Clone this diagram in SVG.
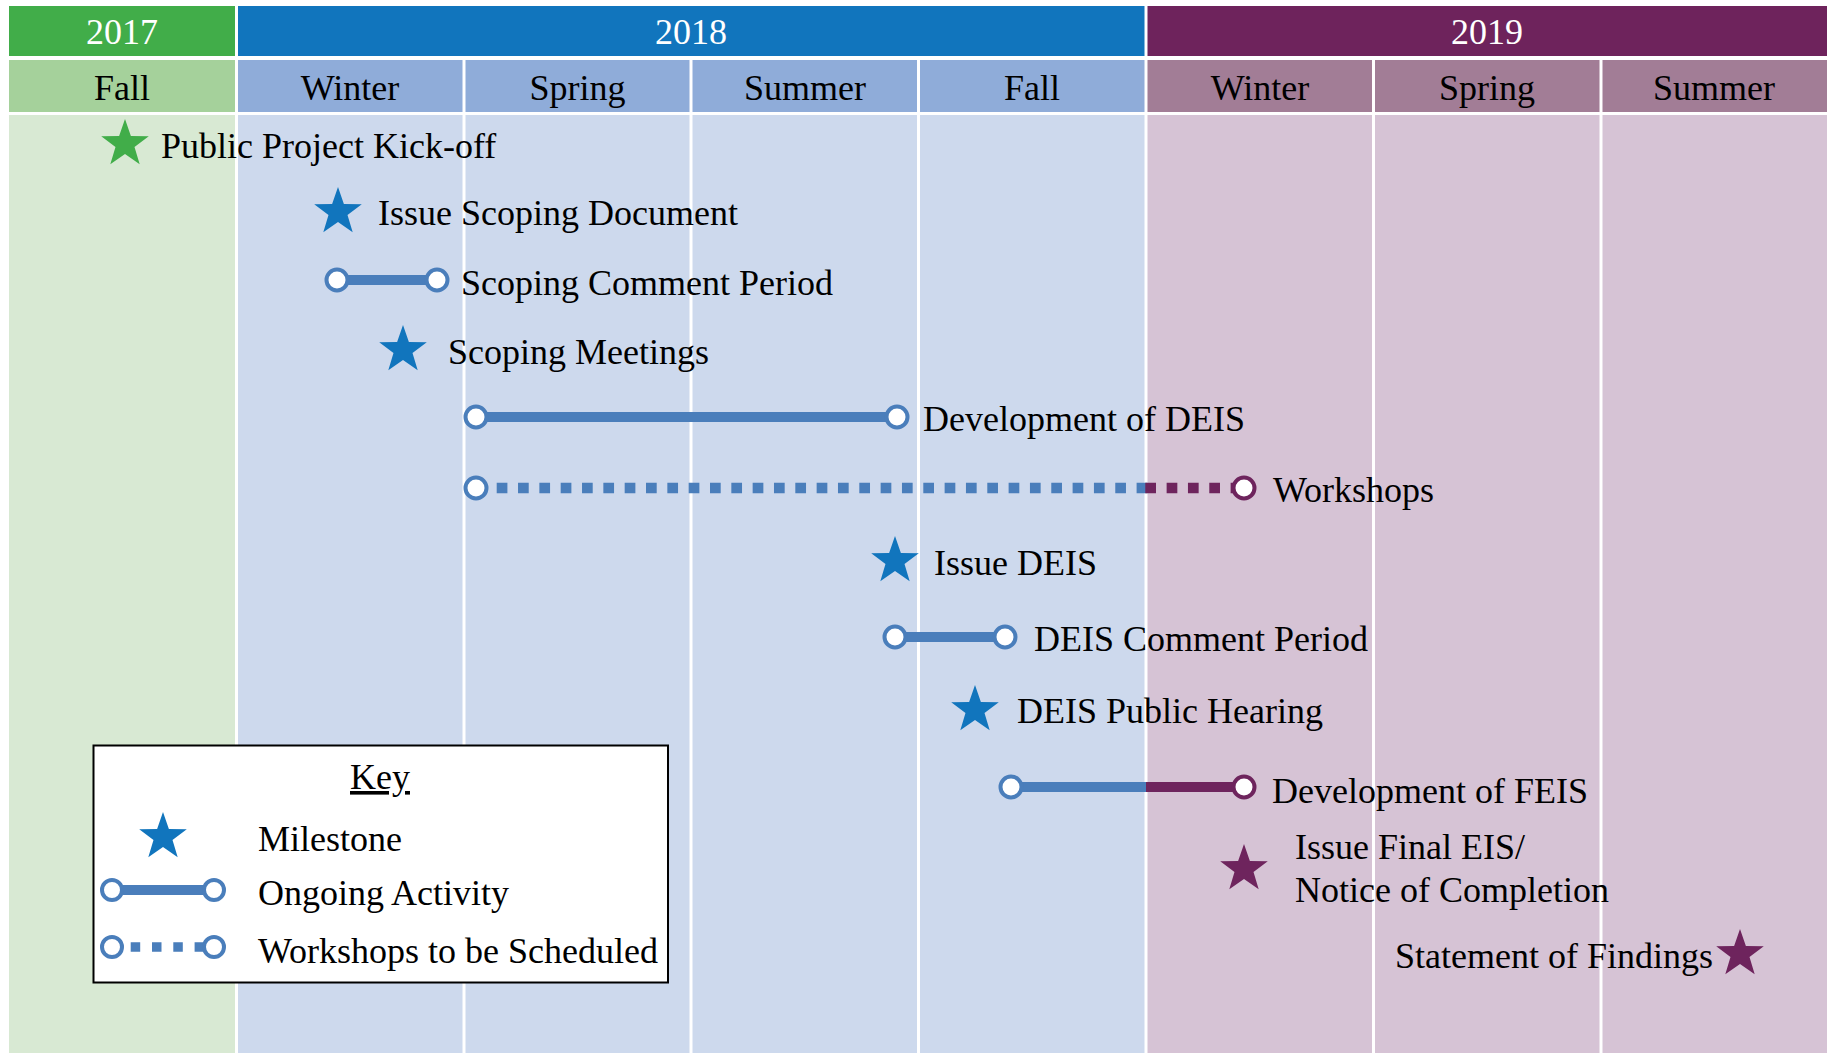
<svg xmlns="http://www.w3.org/2000/svg" xmlns:xlink="http://www.w3.org/1999/xlink" width="1835" height="1053" viewBox="0 0 1835 1053">
<style>
.t{font-family:"Liberation Serif","Times New Roman",serif;font-size:36px;fill:#000}
.w{fill:#fff}
.m{text-anchor:middle}
.sb{fill:#1175BD}
.sg{fill:#41AD49}
.sp{fill:#6E245D}
.lb{stroke:#4A7EBB;stroke-width:10;fill:none}
.lp{stroke:#6E245D;stroke-width:10;fill:none}
.db{stroke:#4A7EBB;stroke-width:10.7;stroke-dasharray:10.7 10.63;fill:none}
.dp{stroke:#6E245D;stroke-width:10.7;stroke-dasharray:10.7 10.63;fill:none}
.cb{fill:#fff;stroke:#4A7EBB;stroke-width:4}
.cp{fill:#fff;stroke:#6E245D;stroke-width:4}
</style>
<defs>
<path id="star" d="M0,-25 L5.88,-8.09 L23.78,-7.73 L9.51,3.09 L14.69,20.23 L0,10 L-14.69,20.23 L-9.51,3.09 L-23.78,-7.73 L-5.88,-8.09Z"/>
</defs>
<rect width="1835" height="1053" fill="#fff"/>
<g id="background">
<rect x="9" y="6" width="226" height="50" fill="#41AD49"/>
<rect x="238" y="6" width="906.5" height="50" fill="#1175BD"/>
<rect x="1147.5" y="6" width="679.5" height="50" fill="#6E235C"/>
<rect x="9" y="60" width="226" height="52" fill="#A5D19B"/>
<rect x="238" y="60" width="224.5" height="52" fill="#8FACD9"/>
<rect x="465.5" y="60" width="224" height="52" fill="#8FACD9"/>
<rect x="692.5" y="60" width="224.5" height="52" fill="#8FACD9"/>
<rect x="920" y="60" width="224.5" height="52" fill="#8FACD9"/>
<rect x="1147.5" y="60" width="224.5" height="52" fill="#A27D96"/>
<rect x="1375" y="60" width="224.5" height="52" fill="#A27D96"/>
<rect x="1602.5" y="60" width="224.5" height="52" fill="#A27D96"/>
<rect x="9" y="115" width="226" height="938" fill="#D8E9D3"/>
<rect x="238" y="115" width="224.5" height="938" fill="#CDD9ED"/>
<rect x="465.5" y="115" width="224" height="938" fill="#CDD9ED"/>
<rect x="692.5" y="115" width="224.5" height="938" fill="#CDD9ED"/>
<rect x="920" y="115" width="224.5" height="938" fill="#CDD9ED"/>
<rect x="1147.5" y="115" width="224.5" height="938" fill="#D6C3D5"/>
<rect x="1375" y="115" width="224.5" height="938" fill="#D6C3D5"/>
<rect x="1602.5" y="115" width="224.5" height="938" fill="#D6C3D5"/>
</g>
<g id="headers">
<text class="t w m" x="122" y="44">2017</text>
<text class="t w m" x="691" y="44">2018</text>
<text class="t w m" x="1487" y="44">2019</text>
<text class="t m" x="122" y="100">Fall</text>
<text class="t m" x="350" y="100">Winter</text>
<text class="t m" x="577.5" y="100">Spring</text>
<text class="t m" x="805" y="100">Summer</text>
<text class="t m" x="1032" y="100">Fall</text>
<text class="t m" x="1260" y="100">Winter</text>
<text class="t m" x="1487" y="100">Spring</text>
<text class="t m" x="1714" y="100">Summer</text>
</g>
<g id="connectors">
<line class="lb" x1="337" y1="280" x2="437" y2="280"/>
<line class="lb" x1="476" y1="417" x2="897" y2="417"/>
<line class="db" x1="496.7" y1="488" x2="1147.3" y2="488"/>
<line class="dp" x1="1145.3" y1="488" x2="1236" y2="488"/>
<line class="lb" x1="895" y1="637" x2="1005" y2="637"/>
<line class="lb" x1="1011" y1="787" x2="1146" y2="787"/>
<line class="lp" x1="1146" y1="787" x2="1244" y2="787"/>
</g>
<g id="kickoff">
<use xlink:href="#star" href="#star" class="sg" x="125" y="144"/>
<text class="t" x="161" y="158">Public Project Kick-off</text>
</g>
<g id="issue-scoping">
<use xlink:href="#star" href="#star" class="sb" x="338" y="212"/>
<text class="t" x="378" y="225">Issue Scoping Document</text>
</g>
<g id="scoping-comment">
<circle class="cb" cx="337" cy="280" r="10.5"/>
<circle class="cb" cx="437" cy="280" r="10.5"/>
<text class="t" x="461" y="295">Scoping Comment Period</text>
</g>
<g id="scoping-meetings">
<use xlink:href="#star" href="#star" class="sb" x="403" y="350"/>
<text class="t" x="448" y="364">Scoping Meetings</text>
</g>
<g id="dev-deis">
<circle class="cb" cx="476" cy="417" r="10.5"/>
<circle class="cb" cx="897" cy="417" r="10.5"/>
<text class="t" x="923" y="431">Development of DEIS</text>
</g>
<g id="workshops">
<circle class="cb" cx="476" cy="488" r="10.5"/>
<circle class="cp" cx="1244" cy="488" r="10.5"/>
<text class="t" x="1273" y="502">Workshops</text>
</g>
<g id="issue-deis">
<use xlink:href="#star" href="#star" class="sb" x="895" y="561"/>
<text class="t" x="934" y="575">Issue DEIS</text>
</g>
<g id="deis-comment">
<circle class="cb" cx="895" cy="637" r="10.5"/>
<circle class="cb" cx="1005" cy="637" r="10.5"/>
<text class="t" x="1034" y="651">DEIS Comment Period</text>
</g>
<g id="deis-hearing">
<use xlink:href="#star" href="#star" class="sb" x="975" y="710"/>
<text class="t" x="1017" y="723">DEIS Public Hearing</text>
</g>
<g id="dev-feis">
<circle class="cb" cx="1011" cy="787" r="10.5"/>
<circle class="cp" cx="1244" cy="787" r="10.5"/>
<text class="t" x="1272" y="803">Development of FEIS</text>
</g>
<g id="final-eis">
<use xlink:href="#star" href="#star" class="sp" x="1244" y="869"/>
<text class="t" x="1295" y="859">Issue Final EIS/</text>
<text class="t" x="1295" y="902">Notice of Completion</text>
</g>
<g id="findings">
<use xlink:href="#star" href="#star" class="sp" x="1740" y="954"/>
<text class="t" x="1395" y="968">Statement of Findings</text>
</g>
<g id="key">
<rect x="93.5" y="745.5" width="574.5" height="237" fill="#fff" stroke="#000" stroke-width="2"/>
<text class="t m" x="380" y="789" text-decoration="underline">Key</text>
<use xlink:href="#star" href="#star" class="sb" x="163" y="837"/>
<text class="t" x="258" y="851">Milestone</text>
<line class="lb" x1="112" y1="890" x2="214" y2="890"/>
<circle class="cb" cx="112" cy="890" r="10"/>
<circle class="cb" cx="214" cy="890" r="10"/>
<text class="t" x="258" y="905">Ongoing Activity</text>
<line x1="130.7" y1="947" x2="203.5" y2="947" stroke="#4A7EBB" stroke-width="9.5" stroke-dasharray="9.5 11.8"/>
<circle class="cb" cx="112" cy="947" r="10"/>
<circle class="cb" cx="214" cy="947" r="10"/>
<text class="t" x="258" y="963">Workshops to be Scheduled</text>
</g>
</svg>
